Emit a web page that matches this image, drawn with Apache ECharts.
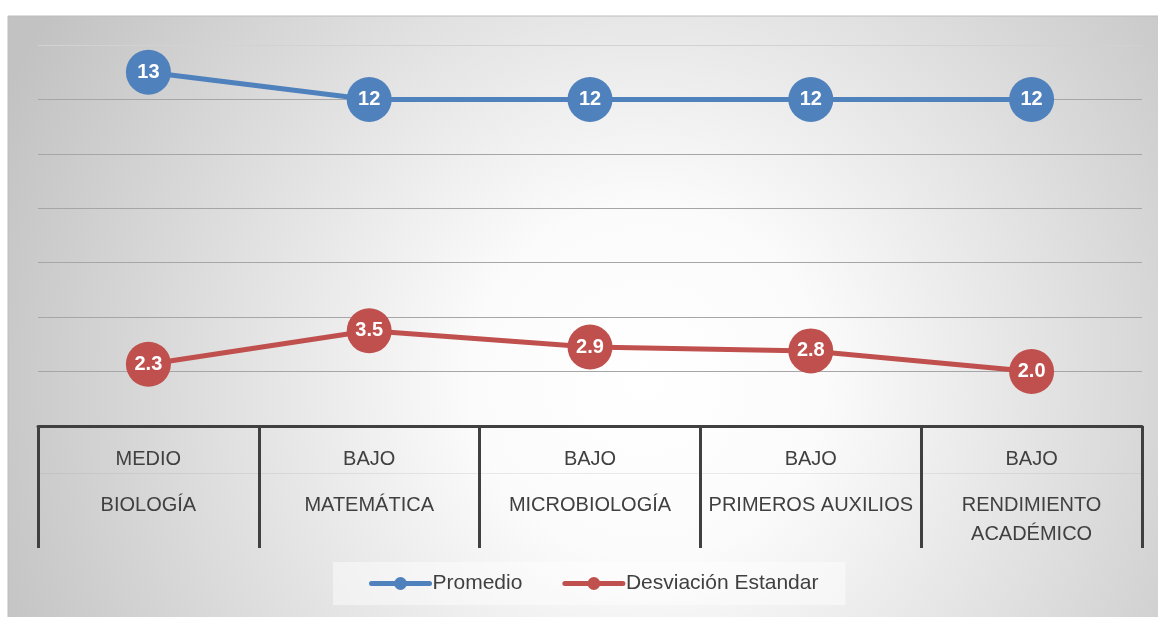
<!DOCTYPE html>
<html>
<head>
<meta charset="utf-8">
<script src="https://cdn.jsdelivr.net/npm/echarts@6/dist/echarts.min.js"></script>
<style>
  html, body { margin: 0; padding: 0; background: #fff; }
  #chart { width: 1158px; height: 617px; }
</style>
</head>
<body>
<div id="chart"></div>
<script>
// nivel + asignatura (eje de categorías en dos niveles)
const levels = ['MEDIO', 'BAJO', 'BAJO', 'BAJO', 'BAJO']
const subjects = ['BIOLOGÍA', 'MATEMÁTICA', 'MICROBIOLOGÍA', 'PRIMEROS AUXILIOS', 'RENDIMIENTO\nACADÉMICO']
const promedio = [13, 12, 12, 12, 12]
const desviacion = [2.27, 3.5, 2.9, 2.76, 2.0]
const yTicks = [0, 2, 4, 6, 8, 10, 12, 14]

const FONT = "'Liberation Sans', Arial, sans-serif"
const TEXT = '#404040'
const BLUE = '#4F81BD'
const RED = '#C0504D'

const chart = echarts.init(document.getElementById('chart'), null, { renderer: 'canvas' })

const lineSeries = (name, data, color, fmt) => ({
    name,
    type: 'line',
    data,
    symbol: 'circle',
    symbolSize: 45,
    lineStyle: { color, width: 5 },
    itemStyle: { color },
    label: {
        show: true,
        position: 'inside',
        color: '#fff',
        fontFamily: FONT,
        fontWeight: 'bold',
        fontSize: 20,
        formatter: ({ value }) => fmt(value)
    },
    emphasis: { disabled: true }
})

// la línea superior (14) casi no se ve en el original
const gridColors = yTicks.map((t, i) => (i === yTicks.length - 1 ? '#d2d2d2' : '#a6a6a6'))

chart.setOption({
    textStyle: { fontFamily: FONT },
    animation: false,
    graphic: [{
        type: 'rect',
        z: -10,
        shape: { x: 8, y: 16, width: 1160, height: 610 },
        style: {
            stroke: '#bdbdbd',
            lineWidth: 1,
            fill: new echarts.graphic.RadialGradient(0.55, 0.6, 1.15, [
                { offset: 0, color: '#ffffff' },
                { offset: 0.25, color: '#fbfbfb' },
                { offset: 1, color: '#c2c2c2' }
            ])
        }
    }],
    grid: { left: 38, right: 16, top: 45, bottom: 191, containLabel: false },
    legend: {
        left: 333,
        top: 562,
        padding: [11, 27, 11, 36],
        backgroundColor: 'rgba(255,255,255,0.45)',
        itemWidth: 58,
        itemHeight: 16,
        itemGap: 40,
        lineStyle: { width: 5, cap: 'round' },
        textStyle: { color: TEXT, fontSize: 21, fontFamily: FONT, padding: [0, 0, 0, -2] },
        data: ['Promedio', 'Desviación Estandar']
    },
    xAxis: [{
        type: 'category',
        data: subjects,
        boundaryGap: true,
        axisLine: { lineStyle: { color: TEXT, width: 3 } },
        axisTick: { show: true, interval: 0, length: 122, lineStyle: { color: TEXT, width: 3 } },
        axisLabel: {
            interval: 0,
            margin: 2,
            formatter: (v, i) => `{a|${levels[i]}}\n` + subjects[i].split('\n').map(s => `{b|${s}}`).join('\n'),
            rich: {
                a: { fontSize: 20, lineHeight: 63, color: TEXT, fontFamily: FONT },
                b: { fontSize: 20, lineHeight: 29, color: TEXT, fontFamily: FONT }
            }
        },
        z: 3
    }, {
        // línea tenue entre los dos niveles
        type: 'category',
        data: subjects,
        position: 'bottom',
        offset: 47,
        axisLine: { lineStyle: { color: 'rgba(150,150,150,0.18)', width: 1 } },
        axisTick: { show: false },
        axisLabel: { show: false }
    }],
    yAxis: {
        type: 'value',
        min: yTicks[0],
        max: yTicks[yTicks.length - 1],
        interval: yTicks[1] - yTicks[0],
        axisLine: { show: false },
        axisTick: { show: false },
        axisLabel: { show: false },
        splitLine: { lineStyle: { color: gridColors, width: 1 } }
    },
    series: [
        lineSeries('Promedio', promedio, BLUE, v => String(Math.round(v))),
        lineSeries('Desviación Estandar', desviacion, RED, v => v.toFixed(1))
    ]
})
</script>
</body>
</html>
